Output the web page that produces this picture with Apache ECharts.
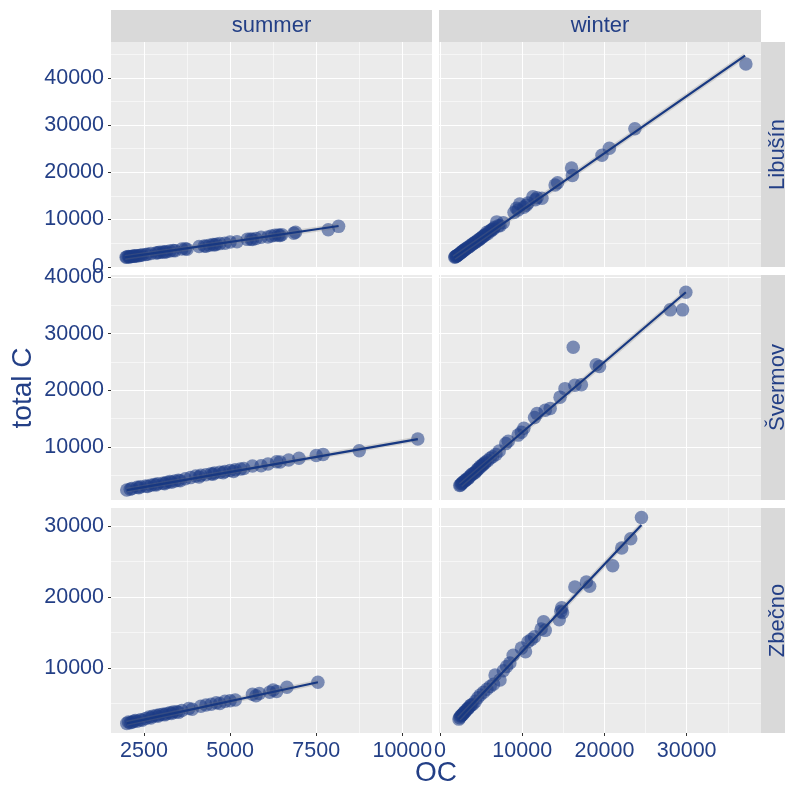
<!DOCTYPE html>
<html>
<head>
<meta charset="utf-8">
<script src="https://cdn.jsdelivr.net/npm/echarts@6/dist/echarts.min.js"></script>
<style>html,body{margin:0;padding:0;background:#fff}#c{width:785px;height:787px}</style>
</head>
<body>
<div id="c"></div>
<script>
// ---- data (OC, total C) ----
const seasons = ['summer', 'winter'];
const sites = ['Libušín', 'Švermov', 'Zbečno'];

const summerLibusin = [[1980,2000],[2000,2050],[2050,2150],[2080,2050],[2100,2100],[2150,2250],[2200,2200],[2220,2300],[2250,2300],[2300,2350],[2350,2330],[2400,2450],[2450,2500],[2550,2600],[2600,2650],[2700,2800],[2850,2900],[2900,2950],[2950,3050],[3050,3150],[3100,3100],[3150,3200],[3250,3350],[3350,3450],[3400,3400],[3600,3750],[3700,3800],[3750,3700],[4100,4300],[4250,4400],[4300,4350],[4400,4550],[4500,4700],[4550,4600],[4600,4750],[4700,4900],[4850,5000],[5000,5250],[5200,5300],[5500,5800],[5600,5850],[5650,5750],[5750,6000],[5900,6250],[6100,6300],[6200,6500],[6300,6650],[6400,6700],[6450,6600],[6500,6800],[6850,7100],[6900,7300],[7850,7850],[8150,8550]];
const winterLibusin = [[1800,2000],[1850,2100],[1950,2200],[2000,2300],[2100,2400],[2200,2500],[2300,2650],[2400,2750],[2500,2950],[2600,3000],[2700,3200],[2800,3350],[2900,3500],[3000,3550],[3100,3750],[3300,3950],[3400,4100],[3600,4300],[3700,4500],[3900,4700],[4000,4850],[4200,5100],[4300,5200],[4500,5400],[4600,5600],[4800,5800],[4900,6000],[5100,6200],[5200,6400],[5400,6600],[5500,6800],[5700,7300],[5800,7000],[6000,7500],[6200,7600],[6300,7900],[6500,8000],[6600,8300],[6900,9500],[7100,8700],[7300,8700],[7700,9300],[9000,11500],[9300,12400],[9500,12000],[9700,13300],[10200,12600],[10500,13000],[10700,13500],[11300,14800],[11600,14200],[11800,14600],[12400,14500],[14000,17300],[14300,17800],[16000,20900],[16100,19300],[19700,23600],[20600,25100],[23700,29200],[37200,42900]];
const summerSvermov = [[2000,2400],[2100,2550],[2150,2700],[2300,2900],[2350,2800],[2400,3000],[2550,3100],[2600,3050],[2700,3250],[2800,3400],[2850,3300],[2900,3500],[3050,3600],[3100,3500],[3150,3750],[3250,3900],[3300,3800],[3400,4000],[3500,4150],[3550,4050],[3700,4400],[3850,4600],[4000,4900],[4100,4700],[4150,5000],[4300,5100],[4450,5300],[4500,5200],[4550,5400],[4700,5550],[4800,5450],[4850,5700],[5000,5850],[5100,5700],[5150,6000],[5300,6100],[5400,6200],[5650,6650],[5900,6700],[6100,7000],[6350,7400],[6450,7350],[6700,7700],[7000,8000],[7500,8500],[7700,8700],[8750,9350],[10450,11400]];
const winterSvermov = [[2400,3200],[2500,3300],[2600,3500],[2700,3600],[2800,3800],[3000,4000],[3100,4100],[3200,4300],[3400,4400],[3500,4600],[3700,4900],[3800,5100],[4000,5300],[4200,5400],[4300,5600],[4500,5900],[4600,6100],[4800,6300],[4900,6600],[5100,6700],[5200,6900],[5400,7100],[5500,7300],[5800,7600],[6100,8000],[6400,8300],[6800,8700],[7200,9300],[8000,10600],[8300,11000],[9500,12100],[9900,12600],[10200,13300],[11500,15200],[11800,15900],[12800,16500],[13400,16800],[14600,18800],[15200,20300],[16400,20900],[17200,21000],[16200,27600],[19000,24500],[19400,24200],[28000,34200],[29500,34200],[29900,37300]];
const summerZbecno = [[2000,2200],[2050,2400],[2100,2300],[2150,2350],[2200,2500],[2250,2600],[2300,2500],[2400,2700],[2450,2650],[2550,2900],[2650,3100],[2700,2950],[2750,3200],[2850,3300],[2900,3200],[2950,3400],[3050,3500],[3100,3400],[3150,3550],[3250,3700],[3300,3600],[3350,3800],[3450,3850],[3500,3750],[3600,4000],[3800,4300],[3900,4200],[4150,4600],[4300,4800],[4450,4900],[4600,5100],[4700,5000],[4850,5300],[5000,5400],[5150,5500],[5650,6300],[5750,6100],[5850,6400],[6150,6600],[6250,6900],[6350,6700],[6650,7300],[7550,8000]];
const winterZbecno = [[2300,2800],[2400,3000],[2500,3200],[2600,3300],[2700,3400],[2800,3500],[2900,3700],[3000,3800],[3100,3900],[3300,4200],[3400,4300],[3500,4400],[3700,4700],[3800,4800],[4000,4900],[4300,5300],[4600,5800],[4900,6200],[5300,6600],[5700,7000],[6100,7400],[6500,7700],[6700,9000],[7300,8300],[7700,9600],[8100,10200],[8500,10700],[8900,11800],[9900,12800],[10400,12300],[10700,13700],[11100,14000],[11500,14400],[12300,15500],[12600,16500],[12800,15300],[14500,16800],[14700,18000],[14800,18500],[14900,17800],[16400,21400],[17800,22100],[18200,21500],[21000,24400],[22100,26900],[23200,28200],[24500,31200]];

// fitted (lm) line end points
const fitSummerLibusin = [[1950,1980],[8150,8620]];
const fitWinterLibusin = [[1700,1940],[37100,44680]];
const fitSummerSvermov = [[2000,2390],[10450,11400]];
const fitWinterSvermov = [[2500,3290],[29900,37300]];
const fitSummerZbecno = [[2000,2210],[7550,7990]];
const fitWinterZbecno = [[2300,2860],[24500,30130]];

// axis ranges and breaks
const xRangeSummer = [1542, 10862];
const xRangeWinter = [-122, 39040];
const yRangeLibusin = [-50, 47570];
const yRangeSvermov = [650, 40350];
const yRangeZbecno = [845, 32535];
const xBreaksSummer = [2500, 5000, 7500, 10000];
const xMinorSummer = [3750, 6250, 8750];
const xBreaksWinter = [0, 10000, 20000, 30000];
const xMinorWinter = [5000, 15000, 25000, 35000];
const yBreaksLibusin = [0, 10000, 20000, 30000, 40000];
const yMinorLibusin = [5000, 15000, 25000, 35000, 45000];
const yBreaksSvermov = [10000, 20000, 30000, 40000];
const yMinorSvermov = [5000, 15000, 25000, 35000];
const yBreaksZbecno = [10000, 20000, 30000];
const yMinorZbecno = [5000, 15000, 25000];

// ---- build ----
const panelData = [[summerLibusin, winterLibusin],[summerSvermov, winterSvermov],[summerZbecno, winterZbecno]];
const panelFit = [[fitSummerLibusin, fitWinterLibusin],[fitSummerSvermov, fitWinterSvermov],[fitSummerZbecno, fitWinterZbecno]];
const xRanges = [xRangeSummer, xRangeWinter];
const xBreaks = [xBreaksSummer, xBreaksWinter];
const xMinors = [xMinorSummer, xMinorWinter];
const yRanges = [yRangeLibusin, yRangeSvermov, yRangeZbecno];
const yBreaks = [yBreaksLibusin, yBreaksSvermov, yBreaksZbecno];
const yMinors = [yMinorLibusin, yMinorSvermov, yMinorZbecno];

const TXT = '#233f86';
const FONT = 'Liberation Sans, Arial, sans-serif';
const colLeft = [111, 439], colW = [321, 322];
const rowTop = [42, 275, 508], rowH = 225;

const grid = [], xAxis = [], yAxis = [], series = [];
for (let r = 0; r < 3; r++) {
  for (let c = 0; c < 2; c++) {
    const g = grid.length;
    grid.push({left: colLeft[c], top: rowTop[r], width: colW[c], height: rowH,
      show: true, backgroundColor: '#EBEBEB', borderWidth: 0, containLabel: false});
    const bottom = r === 2, left = c === 0;
    xAxis.push({type: 'value', gridIndex: g, min: xRanges[c][0], max: xRanges[c][1],
      axisLine: {show: false},
      axisTick: {show: bottom, length: 3, lineStyle: {color: '#333', width: 1}, customValues: xBreaks[c]},
      axisLabel: {show: bottom, customValues: xBreaks[c], color: TXT, fontSize: 21.5, fontFamily: FONT, margin: 7,
        formatter: v => String(v)},
      splitLine: {show: true, lineStyle: {color: '#ffffff', width: 1.1}}, z: 2});
    xAxis.push({type: 'value', gridIndex: g, min: xRanges[c][0], max: xRanges[c][1],
      axisLine: {show: false}, axisTick: {show: false, customValues: xMinors[c]},
      axisLabel: {show: false},
      splitLine: {show: true, lineStyle: {color: '#ffffff', width: 0.55}}, z: 1});
    yAxis.push({type: 'value', gridIndex: g, min: yRanges[r][0], max: yRanges[r][1],
      axisLine: {show: false},
      axisTick: {show: left, length: 3, lineStyle: {color: '#333', width: 1}, customValues: yBreaks[r]},
      axisLabel: {show: left, customValues: yBreaks[r], color: TXT, fontSize: 21.5, fontFamily: FONT, margin: 7,
        formatter: v => String(v)},
      splitLine: {show: true, lineStyle: {color: '#ffffff', width: 1.1}}, z: 2});
    yAxis.push({type: 'value', gridIndex: g, min: yRanges[r][0], max: yRanges[r][1],
      axisLine: {show: false}, axisTick: {show: false, customValues: yMinors[r]},
      axisLabel: {show: false},
      splitLine: {show: true, lineStyle: {color: '#ffffff', width: 0.55}}, z: 1});

    series.push({type: 'scatter', xAxisIndex: g * 2, yAxisIndex: g * 2, data: panelData[r][c],
      symbolSize: 13.5, itemStyle: {color: '#1b3a85', opacity: 0.55}, silent: true, z: 3});
    series.push({type: 'line', xAxisIndex: g * 2, yAxisIndex: g * 2, data: panelFit[r][c],
      showSymbol: false, symbol: 'none', lineStyle: {color: 'rgba(120,120,120,0.25)', width: 5}, silent: true, z: 4});
    series.push({type: 'line', xAxisIndex: g * 2, yAxisIndex: g * 2, data: panelFit[r][c],
      showSymbol: false, symbol: 'none', lineStyle: {color: '#173882', width: 2.2}, silent: true, z: 5});
  }
}

const graphic = [];
for (let c = 0; c < 2; c++) {
  graphic.push({type: 'rect', shape: {x: colLeft[c], y: 10, width: colW[c], height: 32}, style: {fill: '#D9D9D9'}, silent: true});
  graphic.push({type: 'text', x: colLeft[c] + colW[c] / 2, y: 26,
    style: {text: seasons[c], fill: TXT, font: '22px ' + FONT, textAlign: 'center', textVerticalAlign: 'middle'}, silent: true});
}
for (let r = 0; r < 3; r++) {
  graphic.push({type: 'rect', shape: {x: 761, y: rowTop[r], width: 32, height: rowH}, style: {fill: '#D9D9D9'}, silent: true});
  graphic.push({type: 'text', x: 778, y: rowTop[r] + rowH / 2, rotation: Math.PI / 2,
    style: {text: sites[r], fill: TXT, font: '22px ' + FONT, textAlign: 'center', textVerticalAlign: 'middle'}, silent: true});
}
graphic.push({type: 'text', x: 436, y: 773,
  style: {text: 'OC', fill: TXT, font: '28px ' + FONT, textAlign: 'center', textVerticalAlign: 'middle'}, silent: true});
graphic.push({type: 'text', x: 23, y: 388, rotation: Math.PI / 2,
  style: {text: 'total C', fill: TXT, font: '28px ' + FONT, textAlign: 'center', textVerticalAlign: 'middle'}, silent: true});

const chart = echarts.init(document.getElementById('c'), null, {renderer: 'canvas'});
chart.setOption({animation: false, backgroundColor: '#ffffff', grid, xAxis, yAxis, series, graphic});
</script>
</body>
</html>
